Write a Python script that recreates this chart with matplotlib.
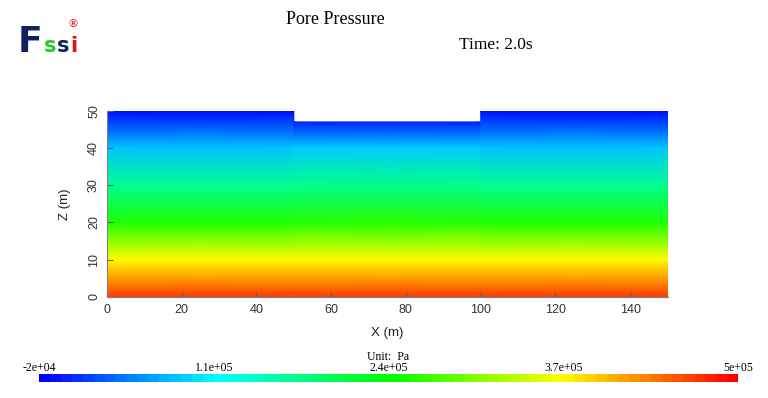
import numpy as np
import matplotlib
matplotlib.use("Agg")
import matplotlib.pyplot as plt
from matplotlib.colors import LinearSegmentedColormap, Normalize
from matplotlib.colorbar import ColorbarBase

# pore pressure (Pa) read at node depths, side blocks and middle (lowered) block
z_side = [0, 10, 20, 30, 40, 50]
p_side = [4.7e5, 3.7e5, 2.55e5, 1.65e5, 8.0e4, -1.5e4]
z_mid = [0, 10, 20, 30, 40, 47]
p_mid = [4.7e5, 3.7e5, 2.6e5, 1.7e5, 8.5e4, 0.0]

# x extents of the three blocks
blocks = [(0, 50, "side"), (50, 100, "mid"), (100, 150, "side")]

vmin, vmax = -2e4, 5e5
cbar_ticks = [-2e4, 1.1e5, 2.4e5, 3.7e5, 5e5]
cbar_labels = ["-2e+04", "1.1e+05", "2.4e+05", "3.7e+05", "5e+05"]
x_ticks = [0, 20, 40, 60, 80, 100, 120, 140]
z_ticks = [0, 10, 20, 30, 40, 50]

rainbow = LinearSegmentedColormap.from_list(
    "bcgyr", ["#0000ff", "#00ffff", "#00ff00", "#ffff00", "#ff0000"], N=256)
rainbow_steps = rainbow.resampled(64)
norm = Normalize(vmin, vmax)

fig = plt.figure(figsize=(7.68, 3.98), dpi=100)
fig.patch.set_facecolor("white")

ax = fig.add_axes([107 / 768, 1 - 297 / 398, 560.5 / 768, 186.3 / 398])
for x0, x1, kind in blocks:
    zz = z_side if kind == "side" else z_mid
    pp = p_side if kind == "side" else p_mid
    X, Z = np.meshgrid([x0, x1], zz)
    C = np.column_stack([pp, pp])
    ax.pcolormesh(X, Z, C, cmap=rainbow, norm=norm, shading="gouraud")

ax.set_xlim(0, 150)
ax.set_ylim(0, 50)
ax.set_xticks(x_ticks)
ax.set_yticks(z_ticks)
for s in ["top", "right"]:
    ax.spines[s].set_visible(False)
for s in ["left", "bottom"]:
    ax.spines[s].set_color("#808080")
    ax.spines[s].set_linewidth(0.8)
ax.tick_params(direction="in", length=4, width=0.8, color="#606060",
               labelsize=9, labelcolor="#333333", pad=5)
ax.tick_params(axis="y", pad=5)
for lab in ax.get_yticklabels():
    lab.set_rotation(90)
    lab.set_va("center")
for lab in ax.get_xticklabels() + ax.get_yticklabels():
    lab.set_family("Liberation Sans")
ax.set_xlabel("X (m)", fontsize=9.5, family="Liberation Sans", color="#222222", labelpad=8)
ax.set_ylabel("Z (m)", fontsize=9.5, family="Liberation Sans", color="#222222", labelpad=12)

# titles
fig.text(335 / 768, 1 - 19 / 398, "Pore Pressure", fontsize=13, family="Liberation Serif",
         ha="center", va="center")
fig.text(496 / 768, 1 - 45 / 398, "Time: 2.0s", fontsize=12.5, family="Liberation Serif",
         ha="center", va="center")

# logo
fig.text(18 / 768, 1 - 52 / 398, "F", fontsize=26, fontweight="bold", color="#12205e",
         family="DejaVu Sans", ha="left", va="baseline")
fig.text(44 / 768, 1 - 52 / 398, "s", fontsize=15, fontweight="bold", color="#22cc22",
         family="DejaVu Sans", ha="left", va="baseline")
fig.text(57 / 768, 1 - 52 / 398, "s", fontsize=15, fontweight="bold", color="#12205e",
         family="DejaVu Sans", ha="left", va="baseline")
fig.text(70 / 768, 1 - 52 / 398, "i", fontsize=15, fontweight="bold", color="#dd1111",
         family="DejaVu Sans", ha="left", va="baseline")
fig.text(73 / 768, 1 - 24 / 398, "\u00ae", fontsize=8, color="#dd1111",
         family="DejaVu Sans", ha="center", va="center")

# colour bar
cax = fig.add_axes([39 / 768, 1 - 381.5 / 398, 699 / 768, 7.5 / 398])
cb = ColorbarBase(cax, cmap=rainbow_steps, norm=norm, orientation="horizontal")
cb.outline.set_visible(False)
cax.set_xticks([])
cax.set_yticks([])
for v, t in zip(cbar_ticks, cbar_labels):
    cax.text(v, 1.05, t, transform=cax.get_xaxis_transform(), ha="center", va="bottom",
             fontsize=8.5, family="Liberation Serif")
cax.text(2.4e5, 2.45, "Unit:  Pa", transform=cax.get_xaxis_transform(), ha="center",
         va="bottom", fontsize=8.5, family="Liberation Serif")

fig.savefig("out.png", dpi=100)
